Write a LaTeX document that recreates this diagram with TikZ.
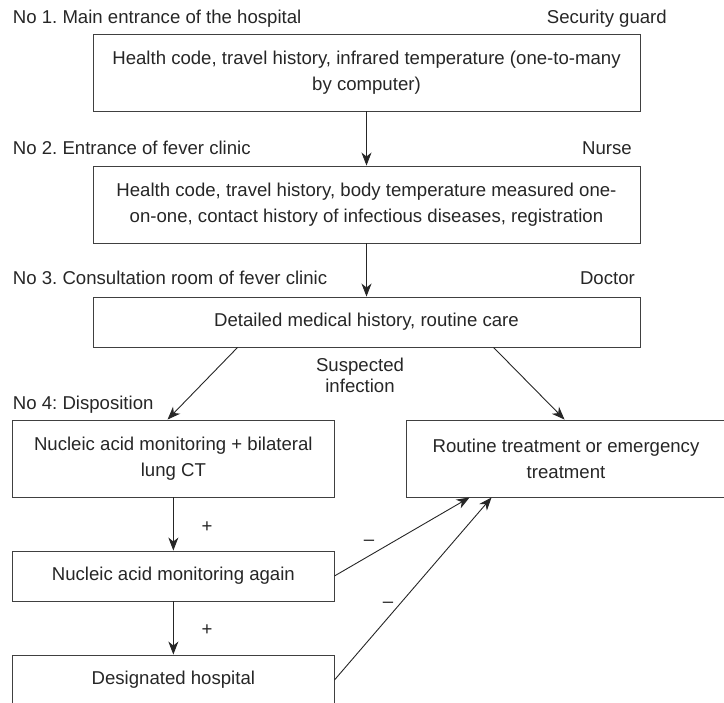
\documentclass[tikz,border=0pt]{standalone}
\usepackage{fontspec}
\setmainfont{Liberation Sans}
\usetikzlibrary{arrows.meta}
\frenchspacing
\begin{document}
\begin{tikzpicture}[x=1pt,y=-1pt,
  every node/.style={font=\fontsize{18.6}{26}\selectfont, text=black!85},
  box/.style={draw=black!75, line width=0.9pt, inner sep=0pt, align=center},
  arr/.style={draw=black!85, line width=0.9pt, -{Stealth[length=13pt,width=10pt,inset=4pt]}},
  lbl/.style={inner sep=0pt}]
\useasboundingbox (0,0) rectangle (724,703);

% boxes
\node[box, minimum width=547pt, minimum height=76.3pt] (b1) at (366.5,72.85)
  {Health code, travel history, infrared temperature (one-to-many\\by computer)};
\node[box, minimum width=547pt, minimum height=77pt] (b2) at (366.5,204.5)
  {Health code, travel history, body temperature measured one-\\on-one, contact history of infectious diseases, registration};
\node[box, minimum width=547pt, minimum height=50pt] (b3) at (366.5,322)
  {Detailed medical history, routine care};
\node[box, minimum width=321.3pt, minimum height=77pt] (b4) at (173.35,458.5)
  {Nucleic acid monitoring + bilateral\\lung CT};
\node[box, minimum width=320pt, minimum height=77pt] (b5) at (566,458.5)
  {Routine treatment or emergency\\treatment};
\node[box, minimum width=321.3pt, minimum height=50pt] (b6) at (173.35,576)
  {Nucleic acid monitoring again};
\node[box, minimum width=321.3pt, minimum height=50pt] (b7) at (173.35,680)
  {Designated hospital};

% side labels
\node[lbl, anchor=base west] (l1) at (12.7,24) {No 1. Main entrance of the hospital};
\node[lbl, anchor=base east] (r1) at (667,24) {Security guard};
\node[lbl, anchor=base west] (l2) at (12.7,155) {No 2. Entrance of fever clinic};
\node[lbl, anchor=base east] (r2) at (632,155) {Nurse};
\node[lbl, anchor=base west] (l3) at (12.7,285) {No 3. Consultation room of fever clinic};
\node[lbl, anchor=base east] (r3) at (635,285) {Doctor};
\node[lbl, anchor=base west] (l4) at (12.7,410) {No 4: Disposition};
\node[lbl, align=center, font=\fontsize{18.6}{20.5}\selectfont] (si) at (360,375.5) {Suspected\\infection};

% connectors
\draw[arr] (b1.south) -- (b2.north);
\draw[arr] (b2.south) -- (b3.north);
\draw[arr] ([xshift=145pt]b3.south west) -- ([xshift=155.3pt]b4.north west);
\draw[arr] ([xshift=401pt]b3.south west) -- ([xshift=159pt]b5.north west);
\draw[arr] (b4.south) -- (b6.north);
\draw[arr] (b6.south) -- (b7.north);
\draw[arr] (b6.east) -- ([xshift=64pt]b5.south west);
\draw[arr] (b7.east) -- ([xshift=86pt]b5.south west);

% connector labels
\node[lbl] (p1) at (207,527) {+};
\node[lbl] (p2) at (207,630) {+};
\node[lbl] (m1) at (369,543) {–};
\node[lbl] (m2) at (388,605) {–};
\end{tikzpicture}
\end{document}
